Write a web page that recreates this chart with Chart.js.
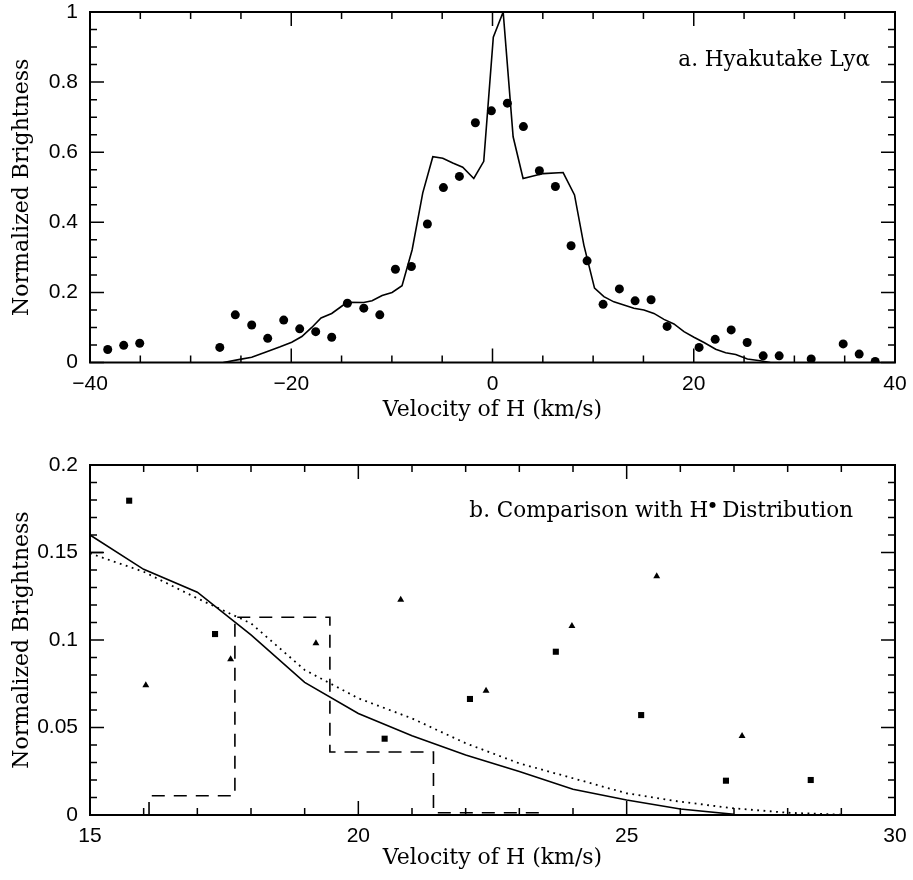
<!DOCTYPE html>
<html>
<head>
<meta charset="utf-8">
<script src="https://cdn.jsdelivr.net/npm/chart.js@4"></script>
<style>
body { margin: 0; background: #fff; }
canvas { display: block; }
</style>
</head>
<body>
<canvas id="topChart" width="913" height="440"></canvas>
<canvas id="bottomChart" width="913" height="440"></canvas>
<script>
// ---- panel a: Hyakutake Ly-alpha ----
const lyaModelV = [-26.75,-25.1,-23.93,-22.44,-21.1,-19.95,-18.95,-17.96,-17.04,-15.98,-14.82,-14.4,-12.8,-11.97,-10.97,-9.98,-8.99,-7.99,-6.93,-5.93,-4.94,-3.95,-2.96,-1.86,-0.87,0.08,1.06,2.05,3.04,5.03,7.02,8.15,9.08,10.14,11.07,12.06,14.05,15.05,16.04,17.04,18.03,19.03,20.02,21.02,22.18,23.17,24.17,25.33,26.6,27.6];
const lyaModelB = [0,0.009,0.015,0.031,0.045,0.058,0.074,0.1,0.127,0.14,0.164,0.172,0.171,0.176,0.191,0.2,0.219,0.321,0.484,0.587,0.583,0.569,0.557,0.525,0.574,0.928,1.0,0.644,0.525,0.539,0.542,0.478,0.335,0.212,0.188,0.173,0.155,0.15,0.14,0.123,0.11,0.088,0.072,0.057,0.038,0.028,0.023,0.01,0.005,0];
const lyaObsV = [-38.24,-36.65,-35.06,-27.1,-25.56,-23.93,-22.34,-20.75,-19.16,-17.57,-15.98,-14.42,-12.79,-11.2,-9.65,-8.06,-6.47,-4.88,-3.29,-1.7,-0.11,1.48,3.07,4.66,6.25,7.81,9.4,10.99,12.61,14.17,15.76,17.35,20.53,22.13,23.72,25.31,26.9,28.49,31.67,34.85,36.44,38.03];
const lyaObsB = [0.037,0.049,0.055,0.043,0.136,0.107,0.069,0.121,0.096,0.088,0.072,0.169,0.155,0.136,0.266,0.274,0.395,0.499,0.531,0.684,0.718,0.74,0.673,0.547,0.502,0.333,0.29,0.166,0.21,0.176,0.179,0.103,0.043,0.066,0.093,0.057,0.019,0.019,0.01,0.053,0.024,0.003];

// ---- panel b: comparison with H* distribution ----
const solidV = [15,16,17,18,19,20,21,22,23,24,25,26,27];
const solidB = [0.16,0.1404,0.1273,0.1029,0.0758,0.058,0.0453,0.0343,0.0248,0.0147,0.0086,0.0034,0.0004];
const dottedV = [15,16,17,18,19,20,21,22,23,24,25,26,27,28,29];
const dottedB = [0.1495,0.139,0.1238,0.1095,0.0829,0.0667,0.0552,0.041,0.0295,0.021,0.0124,0.0076,0.0038,0.0013,0.0002];
// histogram outline (null = pen up)
const histV = [15,15.27,null,16.1,16.1,17.7,17.7,19.47,19.47,21.4,21.4,23.42];
const histB = [0.15,0.15,null,0,0.011,0.011,0.113,0.113,0.036,0.036,0.0013,0.0013];
const squareV = [15.73,17.33,20.49,22.08,23.68,25.27,26.85,28.43];
const squareB = [0.1796,0.1034,0.0436,0.0663,0.0933,0.0571,0.0196,0.02];
const triV = [16.04,17.62,19.21,20.79,22.38,23.98,25.56,27.15];
const triB = [0.0741,0.089,0.0981,0.123,0.071,0.108,0.1364,0.0451];

function pts(xs, ys) {
    return xs.map((v, i) => ({x: v, y: ys[i]}));
}

//box with inward ticks on all four sides
const framePlugin = {
    id: 'frame',
    afterDatasetsDraw(chart, args, opts) {
        const {ctx, chartArea: a, scales: {x, y}} = chart;
        const isMajor = (v, m) => Math.abs(v / m - Math.round(v / m)) < 1e-6;
        ctx.save();
        ctx.strokeStyle = '#000';
        ctx.lineWidth = 1.5;
        ctx.beginPath();
        const nx = Math.round((x.max - x.min) / opts.xMinor);
        for (let i = 0; i <= nx; i++) {
            const v = x.min + i * opts.xMinor;
            const px = x.getPixelForValue(v);
            const len = isMajor(v, opts.xMajor) ? 14 : 7;
            ctx.moveTo(px, a.bottom); ctx.lineTo(px, a.bottom - len);
            ctx.moveTo(px, a.top); ctx.lineTo(px, a.top + len);
        }
        const ny = Math.round((y.max - y.min) / opts.yMinor);
        for (let i = 0; i <= ny; i++) {
            const v = y.min + i * opts.yMinor;
            const py = y.getPixelForValue(v);
            const len = isMajor(v, opts.yMajor) ? 14 : 7;
            ctx.moveTo(a.left, py); ctx.lineTo(a.left + len, py);
            ctx.moveTo(a.right, py); ctx.lineTo(a.right - len, py);
        }
        ctx.stroke();
        ctx.lineWidth = 2;
        ctx.strokeRect(a.left, a.top, a.right - a.left, a.bottom - a.top);
        ctx.restore();
    }
};

//panel caption in the upper right
const captionPlugin = {
    id: 'caption',
    afterDraw(chart, args, opts) {
        const {ctx, chartArea: a} = chart;
        const big = '21.5px "DejaVu Serif"';
        const small = '8px "DejaVu Serif"';
        ctx.save();
        ctx.fillStyle = '#000';
        ctx.textBaseline = 'alphabetic';
        const parts = opts.parts;
        let total = 0;
        parts.forEach(p => {
            ctx.font = p.sup ? small : big;
            total += ctx.measureText(p.text).width;
        });
        let cx = a.right - opts.rightInset - total;
        const by = a.top + opts.baseline;
        parts.forEach(p => {
            ctx.font = p.sup ? small : big;
            ctx.fillText(p.text, cx + (p.sup ? 1 : 0), p.sup ? by - 10 : by);
            cx += ctx.measureText(p.text).width;
        });
        ctx.restore();
    }
};

const tickFont = {family: '"Liberation Sans"', size: 21};
const titleFont = {family: '"DejaVu Serif"', size: 22};
const fmt = v => {
    const s = String(Number(v.toFixed(3)));
    return s.replace('-', '\u2212');
};

function makeOptions(cfg) {
    return {
        responsive: false,
        animation: false,
        devicePixelRatio: 1,
        layout: {padding: {top: cfg.top, right: 18, left: 0, bottom: 0}},
        plugins: {
            legend: {display: false},
            tooltip: {enabled: false},
            frame: cfg.frame,
            caption: cfg.caption
        },
        scales: {
            x: {
                type: 'linear',
                min: cfg.xMin, max: cfg.xMax,
                grid: {display: false, drawTicks: false},
                border: {display: false},
                ticks: {stepSize: cfg.xStep, font: tickFont, color: '#000', padding: 9, maxRotation: 0, callback: fmt},
                title: {display: true, text: 'Velocity of H (km/s)', font: titleFont, color: '#000', padding: {top: 0, bottom: cfg.xTitlePad}},
                afterFit: s => { s.height = cfg.xHeight; s.paddingLeft = 0; s.paddingRight = 0; }
            },
            y: {
                type: 'linear',
                min: cfg.yMin, max: cfg.yMax,
                grid: {display: false, drawTicks: false},
                border: {display: false},
                ticks: {stepSize: cfg.yStep, font: tickFont, color: '#000', padding: 12, callback: fmt},
                title: {display: true, text: 'Normalized Brightness', font: titleFont, color: '#000', padding: {top: 9, bottom: 0}},
                afterFit: s => { s.width = 90; s.paddingTop = 0; s.paddingBottom = 0; }
            }
        }
    };
}

new Chart(document.getElementById('topChart'), {
    type: 'scatter',
    data: {
        datasets: [{
            data: pts(lyaModelV, lyaModelB),
            showLine: true,
            borderColor: '#000',
            borderWidth: 1.6,
            pointRadius: 0,
            tension: 0
        }, {
            data: pts(lyaObsV, lyaObsB),
            pointStyle: 'circle',
            pointRadius: 4.5,
            backgroundColor: '#000',
            borderColor: '#000',
            borderWidth: 0
        }]
    },
    options: makeOptions({
        top: 12, xHeight: 77.5, xTitlePad: 17,
        xMin: -40, xMax: 40, xStep: 20,
        yMin: 0, yMax: 1, yStep: 0.2,
        frame: {xMinor: 5, xMajor: 20, yMinor: 0.05, yMajor: 0.2},
        caption: {parts: [{text: 'a. Hyakutake Ly\u03b1'}], rightInset: 25, baseline: 54}
    }),
    plugins: [framePlugin, captionPlugin]
});

new Chart(document.getElementById('bottomChart'), {
    type: 'scatter',
    data: {
        datasets: [{
            data: pts(solidV, solidB),
            showLine: true,
            borderColor: '#000',
            borderWidth: 1.6,
            pointRadius: 0,
            tension: 0
        }, {
            data: pts(dottedV, dottedB),
            showLine: true,
            borderColor: '#000',
            borderWidth: 1.8,
            borderDash: [1.8, 4.5],
            pointRadius: 0,
            tension: 0
        }, {
            data: pts(histV, histB),
            showLine: true,
            spanGaps: false,
            borderColor: '#000',
            borderWidth: 1.6,
            borderDash: [13, 9],
            pointRadius: 0,
            tension: 0
        }, {
            data: pts(squareV, squareB),
            pointStyle: 'rect',
            pointRadius: 4.3,
            backgroundColor: '#000',
            borderWidth: 0
        }, {
            data: pts(triV, triB),
            pointStyle: 'triangle',
            pointRadius: 4,
            backgroundColor: '#000',
            borderWidth: 0
        }]
    },
    options: makeOptions({
        top: 25, xHeight: 65, xTitlePad: 9,
        xMin: 15, xMax: 30, xStep: 5,
        yMin: 0, yMax: 0.2, yStep: 0.05,
        frame: {xMinor: 1, xMajor: 5, yMinor: 0.01, yMajor: 0.05},
        caption: {parts: [{text: 'b. Comparison with H'}, {text: '\u25cf', sup: true}, {text: ' Distribution'}], rightInset: 42, baseline: 52}
    }),
    plugins: [framePlugin, captionPlugin]
});
</script>
</body>
</html>
